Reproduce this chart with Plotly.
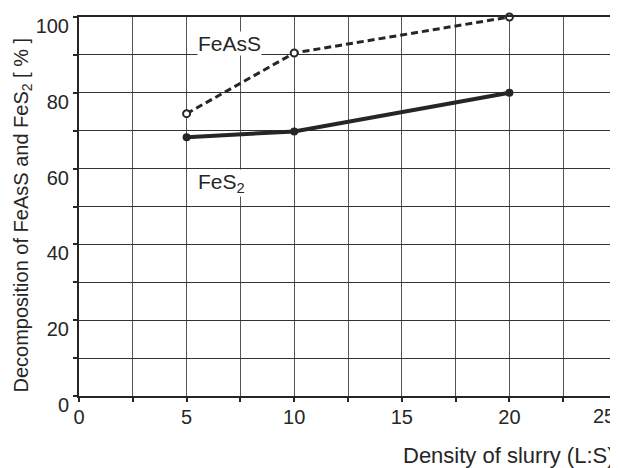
import plotly.graph_objects as go

density = [5, 10, 20]
feass = [74.5, 90.5, 100]
fes2 = [68.3, 69.8, 80]
x_ticks = [0, 5, 10, 15, 20]
x_last_tick = 25
y_ticks = [0, 20, 40, 60, 80, 100]

INK = "#262626"
FONT = "Liberation Sans, Arial, sans-serif"

fig = go.Figure()
fig.add_trace(go.Scatter(
    x=density, y=fes2, mode="lines+markers",
    line=dict(color=INK, width=4),
    marker=dict(symbol="circle", size=8, color=INK),
    cliponaxis=False, showlegend=False))
fig.add_trace(go.Scatter(
    x=density, y=feass, mode="lines+markers",
    line=dict(color=INK, width=3, dash="7px,4px"),
    marker=dict(symbol="circle", size=7, color="white", line=dict(color=INK, width=2)),
    cliponaxis=False, showlegend=False))

fig.add_annotation(x=5.5, y=89.6, xref="x", yref="y", text="FeAsS", showarrow=False,
                   xanchor="left", yanchor="bottom", bgcolor="white",
                   font=dict(family=FONT, size=21, color=INK), borderpad=0)
fig.add_annotation(x=5.5, y=52.4, xref="x", yref="y", text="FeS<sub>2</sub>", showarrow=False,
                   xanchor="left", yanchor="bottom", bgcolor="white",
                   font=dict(family=FONT, size=21, color=INK), borderpad=0)

fig.update_layout(
    width=610, height=460,
    margin=dict(l=71, r=1, t=9, b=72, autoexpand=False),
    paper_bgcolor="white", plot_bgcolor="white",
    font=dict(family=FONT, size=20, color=INK),
)
fig.update_xaxes(
    range=[0, 25], tickvals=x_ticks, ticktext=[str(v) for v in x_ticks],
    showgrid=False, zeroline=False, automargin=False,
    showline=True, linecolor=INK, linewidth=2, mirror=True,
    ticks="outside", ticklen=4, tickcolor=INK, tickwidth=1.5,
    minor=dict(dtick=2.5, tick0=0, showgrid=True, gridcolor="#555555", gridwidth=1,
               ticks="outside", ticklen=4, tickcolor=INK),
    tickfont=dict(size=20), ticklabeloverflow="allow", ticklabelstandoff=-2,
)
# last x tick label kept inside the picture, right-aligned to its tick
fig.add_annotation(x=x_last_tick, y=0, xref="x", yref="paper", text=str(x_last_tick),
                   showarrow=False, xanchor="right", yanchor="middle", yshift=-20,
                   font=dict(family=FONT, size=20, color=INK))
fig.update_yaxes(
    range=[0, 100], tickvals=y_ticks, ticktext=[str(v) for v in y_ticks],
    showgrid=False, zeroline=False, automargin=False,
    showline=True, linecolor=INK, linewidth=2, mirror=True,
    ticks="outside", ticklen=4, tickcolor=INK, tickwidth=1.5,
    minor=dict(dtick=10, tick0=0, showgrid=True, gridcolor="#333333", gridwidth=1,
               ticks="outside", ticklen=4, tickcolor=INK),
    tickfont=dict(size=20), ticklabelshift=9, ticklabeloverflow="allow",
    ticklabelstandoff=0,
)
fig.add_annotation(x=0, y=0.5, xref="paper", yref="paper", xshift=-57, yshift=-9,
                   text="Decomposition of FeAsS and FeS<sub>2</sub> [ % ]", textangle=-90,
                   showarrow=False, xanchor="center", yanchor="middle",
                   font=dict(family=FONT, size=20, color=INK))
fig.add_annotation(x=1, y=0, xref="paper", yref="paper", yshift=-59,
                   text="Density of slurry (L:S)", showarrow=False,
                   xanchor="right", yanchor="middle",
                   font=dict(family=FONT, size=22, color=INK))

fig.write_html("out.html")
